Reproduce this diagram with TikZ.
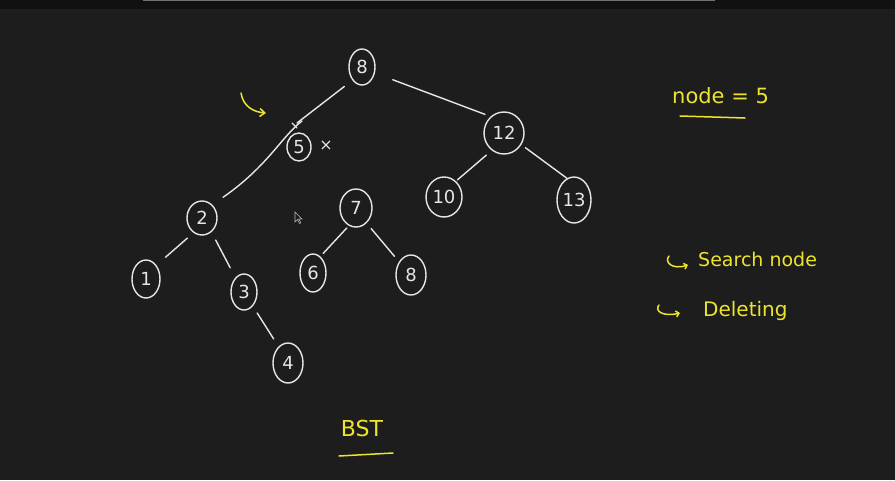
\documentclass[tikz,border=0pt]{standalone}
\usepackage{fontspec}
\setmainfont{DejaVu Sans}
\usetikzlibrary{shapes.geometric,arrows.meta}
\definecolor{bg}{HTML}{1D1D1D}
\definecolor{topbar}{HTML}{111111}
\definecolor{chalk}{HTML}{E6E6E6}
\definecolor{hl}{HTML}{EDE42E}
\begin{document}
\begin{tikzpicture}[x=1pt,y=-1pt,
  bst/.style={draw=chalk, line width=1.4pt, shape=ellipse, inner sep=0pt,
    text=chalk, font=\fontsize{18}{18}\selectfont},
  edge/.style={draw=chalk, line width=1.4pt, line cap=round},
  hand/.style={draw=hl, line width=1.5pt, line cap=round},
  note/.style={text=hl, font=\fontsize{19}{19}\selectfont, anchor=west, inner sep=0pt}]
\fill[bg] (0,0) rectangle (895,480);
\useasboundingbox (0,0) rectangle (895,480);
\fill[topbar] (0,0) rectangle (895,9);
\fill[black!55!white] (143,0) rectangle (715,1);
% nodes
\node[bst, minimum width=26pt, minimum height=36pt] (r8) at (362,67) {8};
\node[bst, minimum width=24pt, minimum height=28pt] (n5) at (299,147) {5};
\node[bst, minimum width=40pt, minimum height=42pt] (n12) at (504,133) {12};
\node[bst, minimum width=36pt, minimum height=40pt] (n10) at (444,197) {10};
\node[bst, minimum width=34pt, minimum height=46pt] (n13) at (574,200) {13};
\node[bst, minimum width=30pt, minimum height=34pt] (n2) at (202,218) {2};
\node[bst, minimum width=32pt, minimum height=38pt] (n7) at (356,208) {7};
\node[bst, minimum width=28pt, minimum height=38pt] (n1) at (146,279) {1};
\node[bst, minimum width=26pt, minimum height=36pt] (n3) at (244,292) {3};
\node[bst, minimum width=26pt, minimum height=38pt] (n6) at (313,273) {6};
\node[bst, minimum width=30pt, minimum height=40pt] (n8b) at (411,275) {8};
\node[bst, minimum width=30pt, minimum height=40pt] (n4) at (288,363) {4};
% edges
\coordinate (k1) at (297,123);
\coordinate (k2) at (302,121);
\coordinate (t1) at (292,123);
\coordinate (t2) at (297,128);
\draw[edge, shorten <=10pt] (r8.234) -- (k1);
\draw[edge] (t1) -- (t2);
\draw[edge, shorten >=13pt] (k2) .. controls (282,136) and (268,166) .. (n2.52);
\draw[edge, shorten <=19pt, shorten >=6pt] (r8.335) -- (n12.129);
\draw[edge, shorten <=7pt, shorten >=2pt] (n12.235) -- (n10.53);
\draw[edge, shorten <=5pt] (n12.326) -- (n13.108);
\draw[edge, shorten <=8pt, shorten >=12pt] (n2.240) -- (n1.53);
\draw[edge, shorten <=9pt, shorten >=11pt] (n2.304) -- (n3.121);
\draw[edge, shorten <=8pt, shorten >=9pt] (n3.302) -- (n4.120);
\draw[edge, shorten <=3pt, shorten >=4pt] (n7.248) -- (n6.66);
\draw[edge, shorten <=7pt, shorten >=7pt] (n7.305) -- (n8b.132);
% cross next to 5
\node[text=chalk, font=\fontsize{16}{16}\selectfont, inner sep=0pt] (x5) at (326,146) {×};
% yellow arrow
\coordinate (ya) at (241,93);
\coordinate (yb) at (266,113);
\draw[hand, -{Straight Barb[length=5pt,width=8pt]}] (ya) .. controls (243,106) and (253,112) .. (yb);
% cursor
\draw[chalk!80!black, line width=0.6pt, fill=bg] (295,212) -- (295,222) -- (297.5,219.5) -- (299.5,223.5) -- (300.8,222.8) -- (298.8,219) -- (302,219) -- cycle;
% right notes
\node[note, font=\fontsize{21}{21}\selectfont] (nd) at (672,96) {node = 5};
\coordinate (u1) at (680,116);
\coordinate (u2) at (745,118);
\draw[hand] (u1) -- (u2);
\node[note] (sn) at (698,259) {Search node};
\coordinate (h1a) at (669,256);
\coordinate (h1b) at (688,265);
\draw[hand, -{Straight Barb[length=3pt,width=6pt]}] (h1a) .. controls (664,262) and (672,270) .. (h1b);
\node[note, font=\fontsize{20}{20}\selectfont] (del) at (703,311) {Deleting};
\coordinate (h2a) at (659,305);
\coordinate (h2b) at (680,313);
\draw[hand, -{Straight Barb[length=3pt,width=6pt]}] (h2a) .. controls (654,311) and (663,317) .. (h2b);
% BST label
\node[text=hl, font=\fontsize{22}{22}\selectfont, inner sep=0pt] (bst) at (362,428) {BST};
\coordinate (b1) at (339,456);
\coordinate (b2) at (393,453);
\draw[hand] (b1) -- (b2);
\end{tikzpicture}
\end{document}
